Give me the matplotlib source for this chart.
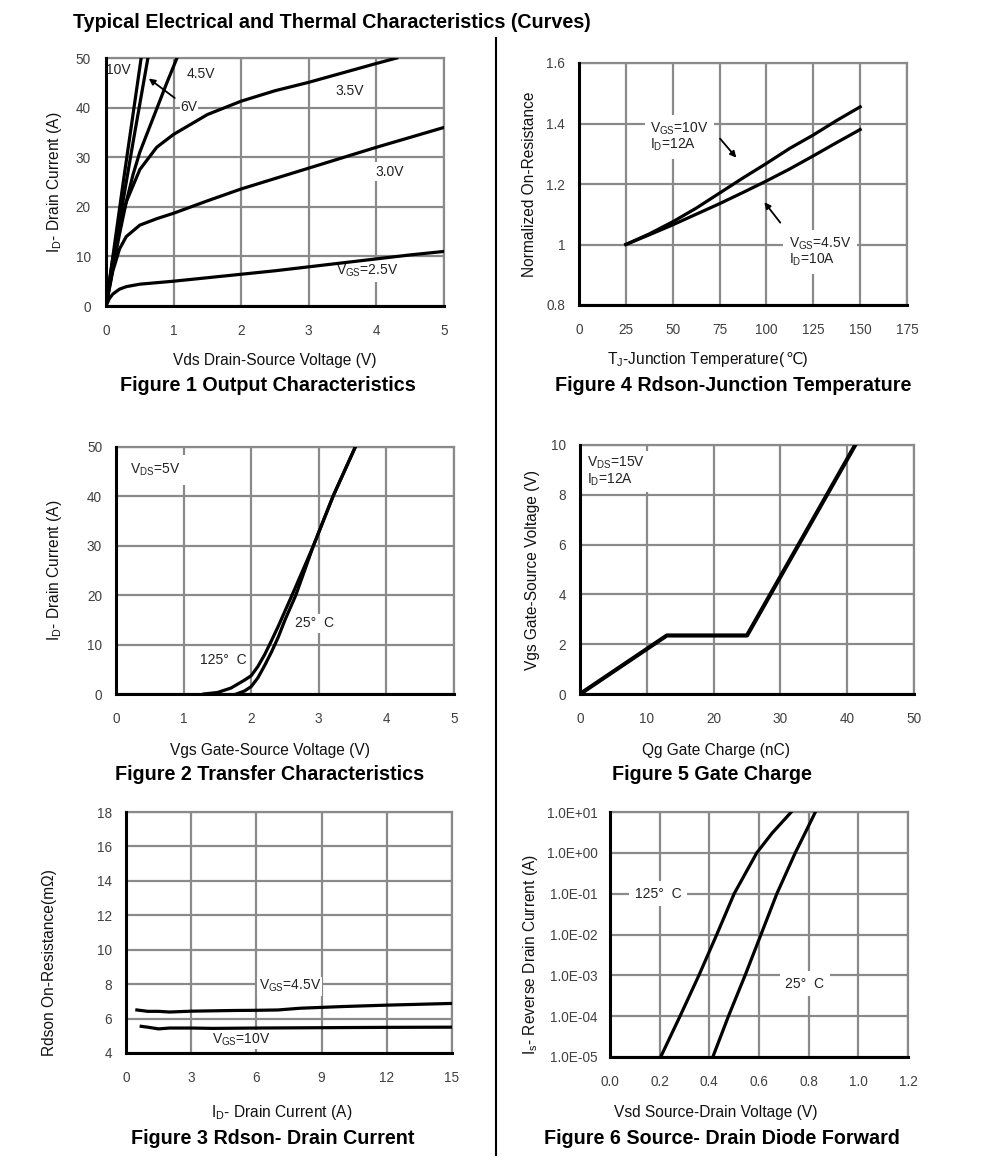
import matplotlib
matplotlib.use("Agg")
import matplotlib.pyplot as plt
from matplotlib.ticker import FuncFormatter, NullLocator

plt.rcParams['font.family'] = ['Liberation Sans', 'DejaVu Sans', 'Noto Sans CJK SC']
plt.rcParams['mathtext.fontset'] = 'custom'
plt.rcParams['mathtext.rm'] = 'Liberation Sans'

W, H = 991, 1164

# Figure 1 - output characteristics (Vds, Id) per Vgs
vds_10v = [0, 0.25, 0.52]
id_10v = [0, 24.5, 50]
vds_6v = [0, 0.2, 0.4, 0.62]
id_6v = [0, 17, 33, 50]
vds_45v = [0, 0.1, 0.2, 0.3, 0.4, 0.5, 0.6, 0.7, 0.8, 0.9, 1.05]
id_45v = [0, 7.5, 14.5, 21, 26.5, 31, 34.5, 38, 41.5, 45, 50]
vds_35v = [0, 0.05, 0.1, 0.2, 0.3, 0.5, 0.75, 1, 1.5, 2, 2.5, 3, 3.5, 4, 4.3]
id_35v = [0, 5, 9.5, 16, 21, 27.5, 32, 34.6, 38.6, 41.3, 43.4, 45.1, 47, 48.9, 50]
vds_30v = [0, 0.05, 0.1, 0.2, 0.3, 0.5, 0.75, 1, 1.5, 2, 2.5, 3, 3.5, 4, 4.5, 5]
id_30v = [0, 3.5, 7, 11.5, 14, 16.3, 17.6, 18.7, 21.2, 23.6, 25.7, 27.8, 29.9, 32, 34, 36]
vds_25v = [0, 0.05, 0.1, 0.2, 0.3, 0.5, 1, 1.5, 2, 2.5, 3, 3.5, 4, 4.5, 5]
id_25v = [0, 1.5, 2.4, 3.4, 3.9, 4.4, 5.0, 5.7, 6.4, 7.1, 7.9, 8.7, 9.5, 10.3, 11.0]

# Figure 4 - normalized Rdson vs junction temperature
tj = [25, 37.5, 50, 62.5, 75, 87.5, 100, 112.5, 125, 137.5, 150]
rn_10v = [1.0, 1.035, 1.075, 1.12, 1.17, 1.22, 1.268, 1.318, 1.362, 1.41, 1.455]
rn_45v = [1.0, 1.032, 1.065, 1.10, 1.135, 1.172, 1.21, 1.25, 1.293, 1.337, 1.38]

# Figure 2 - transfer characteristics
vgs_25c = [1.78, 1.9, 2.0, 2.1, 2.2, 2.3, 2.4, 2.5, 2.66, 2.92, 3.21, 3.54]
id_25c = [0, 0.6, 1.5, 3.3, 5.8, 8.5, 11.5, 15, 20, 30, 40, 50]
vgs_125c = [1.3, 1.5, 1.7, 1.8, 1.9, 2.0, 2.1, 2.2, 2.3, 2.4, 2.5, 2.62, 2.92, 3.21, 3.54]
id_125c = [0, 0.3, 1.2, 2.0, 2.8, 3.7, 5.6, 8.0, 10.8, 13.7, 16.8, 20.5, 30, 40, 50]

# Figure 5 - gate charge
qg = [0, 13, 25, 41.2]
vgs_qg = [0, 2.35, 2.35, 10]

# Figure 3 - Rdson vs drain current
id_r45 = [0.5, 1, 1.5, 2, 3, 4, 5, 6, 7, 8, 9, 10, 12, 15]
rds_45v = [6.5, 6.42, 6.42, 6.38, 6.43, 6.45, 6.47, 6.48, 6.5, 6.6, 6.65, 6.7, 6.78, 6.88]
id_r10 = [0.7, 1, 1.5, 2, 3, 4, 6, 9, 12, 15]
rds_10v = [5.55, 5.5, 5.4, 5.45, 5.45, 5.43, 5.45, 5.47, 5.49, 5.5]

# Figure 6 - body diode forward
is_a = [1e-5, 1e-4, 1e-3, 1e-2, 1e-1, 1, 3, 10]
vsd_125c = [0.204, 0.282, 0.358, 0.43, 0.5, 0.591, 0.652, 0.73]
vsd_25c = [0.414, 0.477, 0.544, 0.608, 0.672, 0.746, 0.785, 0.827]

fig = plt.figure(figsize=(W / 100, H / 100), dpi=100)

GRID = '#8a8a8a'
TICK = '#404040'
LW = 2.3


def px_axes(l, t, r, b):
    return fig.add_axes([l / W, 1 - b / H, (r - l) / W, (b - t) / H])


def style(ax, xpad=13, ypad=10):
    ax.grid(True, color=GRID, lw=1.6)
    ax.set_axisbelow(True)
    for s in ['left', 'bottom']:
        ax.spines[s].set_linewidth(2.2)
        ax.spines[s].set_color('black')
        ax.spines[s].set_zorder(5)
    for s in ['top', 'right']:
        ax.spines[s].set_linewidth(1.6)
        ax.spines[s].set_color(GRID)
    ax.tick_params(length=0, labelsize=9.8, labelcolor=TICK)
    ax.tick_params(axis='x', pad=xpad)
    ax.tick_params(axis='y', pad=ypad)


def ftxt(x, y, s, **kw):
    return fig.text(x / W, 1 - y / H, s, **kw)


def lab(ax, x, y, s, **kw):
    ax.text(x, y, s, fontsize=10, color='#222222', zorder=2.5,
            bbox=dict(facecolor='white', edgecolor='none', pad=kw.pop('pad', 2)), **kw)


cap = dict(fontsize=14.2, fontweight='bold', ha='center', va='center')
axl = dict(fontsize=11.2, ha='center', va='center', color='#111111')

ftxt(73, 22, 'Typical Electrical and Thermal Characteristics (Curves)',
     fontsize=14.2, fontweight='bold', ha='left', va='center')
fig.add_artist(plt.Line2D([496 / W, 496 / W], [1 - 38 / H, 1 - 1155 / H], color='black', lw=1.5))

# ---- Figure 1
ax1 = px_axes(106, 58, 444, 306)
style(ax1, ypad=11)
for x, y in [(vds_10v, id_10v), (vds_6v, id_6v), (vds_45v, id_45v),
             (vds_35v, id_35v), (vds_30v, id_30v), (vds_25v, id_25v)]:
    ax1.plot(x, y, color='black', lw=LW, zorder=3)
ax1.set_xlim(0, 5)
ax1.set_ylim(0, 50)
ax1.set_xticks(range(0, 6))
ax1.set_yticks(range(0, 51, 10))
lab(ax1, 0.0, 47.6, '10V', va='center', pad=0.5)
lab(ax1, 1.2, 46.8, '4.5V', va='center', pad=0.5)
lab(ax1, 1.1, 40.2, '6V', va='center', pad=0.5)
ax1.annotate('', xy=(0.6, 46.2), xytext=(1.05, 41.6),
             arrowprops=dict(arrowstyle='-|>', color='black', lw=1.3, mutation_scale=9))
lab(ax1, 3.4, 43.3, '3.5V', va='center', pad=0.5)
lab(ax1, 3.98, 27.1, '3.0V', va='center')
lab(ax1, 3.4, 7.0, r'V$_{\mathrm{GS}}$=2.5V', va='center')
ftxt(55, 182, r'I$_{\mathrm{D}}$- Drain Current (A)', rotation=90, **axl)
ftxt(275, 360, 'Vds Drain-Source Voltage (V)', **axl)
ftxt(268, 386, 'Figure 1 Output Characteristics', **cap)

# ---- Figure 4
ax4 = px_axes(579, 63, 907, 305)
style(ax4, ypad=10)
ax4.plot(tj, rn_10v, color='black', lw=LW, zorder=3)
ax4.plot(tj, rn_45v, color='black', lw=LW, zorder=3)
ax4.set_xlim(0, 175)
ax4.set_ylim(0.8, 1.6)
ax4.set_xticks(range(0, 176, 25))
ax4.set_yticks([0.8, 1.0, 1.2, 1.4, 1.6])
ax4.yaxis.set_major_formatter(FuncFormatter(lambda v, p: f'{v:g}'))
lab(ax4, 38, 1.41, 'V$_{\\mathrm{GS}}$=10V\nI$_{\\mathrm{D}}$=12A', va='top', pad=4, linespacing=1.0)
ax4.annotate('', xy=(84.9, 1.28), xytext=(74.3, 1.357),
             arrowprops=dict(arrowstyle='-|>', color='black', lw=1.3, mutation_scale=9))
lab(ax4, 112, 1.03, 'V$_{\\mathrm{GS}}$=4.5V\nI$_{\\mathrm{D}}$=10A', va='top', pad=4, linespacing=1.0)
ax4.annotate('', xy=(98, 1.147), xytext=(108.3, 1.065),
             arrowprops=dict(arrowstyle='-|>', color='black', lw=1.3, mutation_scale=9))
ftxt(530, 184, 'Normalized On-Resistance', rotation=90, **axl)
# x label in two parts so the ℃ sign can come from a font that has it
tj_lab = ftxt(607, 364, 'T$_{\\mathrm{J}}$-Junction Temperature(', fontsize=11.2,
              ha='left', va='baseline', color='#111111')
fig.canvas.draw()
x_end = tj_lab.get_window_extent().x1
fig.text(x_end / W, 1 - 364 / H, '℃)', fontsize=11.2, ha='left', va='baseline', color='#111111')
ftxt(733, 386, 'Figure 4 Rdson-Junction Temperature', **cap)

# ---- Figure 2
ax2 = px_axes(116, 447, 454, 694)
style(ax2)
ax2.plot(vgs_125c, id_125c, color='black', lw=LW, zorder=3)
ax2.plot(vgs_25c, id_25c, color='black', lw=LW, zorder=3)
ax2.set_xlim(0, 5)
ax2.set_ylim(0, 50)
ax2.set_xticks(range(0, 6))
ax2.set_yticks(range(0, 51, 10))
lab(ax2, 0.2, 45.4, r'V$_{\mathrm{DS}}$=5V', va='center', pad=5)
lab(ax2, 2.65, 14.3, '25°  C', va='center')
lab(ax2, 1.24, 6.9, '125°  C', va='center')
ftxt(55, 570, r'I$_{\mathrm{D}}$- Drain Current (A)', rotation=90, **axl)
ftxt(270, 750, 'Vgs Gate-Source Voltage (V)', **axl)
ftxt(270, 775, 'Figure 2 Transfer Characteristics', **cap)

# ---- Figure 5
ax5 = px_axes(580, 445, 914, 694)
style(ax5)
ax5.plot(qg, vgs_qg, color='black', lw=3, zorder=3)
ax5.set_xlim(0, 50)
ax5.set_ylim(0, 10)
ax5.set_xticks(range(0, 51, 10))
ax5.set_yticks(range(0, 11, 2))
lab(ax5, 1.1, 9.6, 'V$_{\\mathrm{DS}}$=15V\nI$_{\\mathrm{D}}$=12A', va='top', pad=3, linespacing=1.0)
ftxt(533, 570, 'Vgs Gate-Source Voltage (V)', rotation=90, **axl)
ftxt(716, 750, 'Qg Gate Charge (nC)', **axl)
ftxt(712, 775, 'Figure 5 Gate Charge', **cap)

# ---- Figure 3
ax3 = px_axes(126, 812, 452, 1053)
style(ax3, ypad=10)
ax3.plot(id_r45, rds_45v, color='black', lw=LW, zorder=3)
ax3.plot(id_r10, rds_10v, color='black', lw=LW, zorder=3)
ax3.set_xlim(0, 15)
ax3.set_ylim(4, 18)
ax3.set_xticks(range(0, 16, 3))
ax3.set_yticks(range(4, 19, 2))
lab(ax3, 6.1, 7.88, r'V$_{\mathrm{GS}}$=4.5V', va='center', pad=1)
lab(ax3, 3.95, 4.78, r'V$_{\mathrm{GS}}$=10V', va='center', pad=1)
ftxt(50, 963, 'Rdson On-Resistance(mΩ)', rotation=90, **axl)
ftxt(282, 1113, r'I$_{\mathrm{D}}$- Drain Current (A)', **axl)
ftxt(273, 1139, 'Figure 3 Rdson- Drain Current', **cap)

# ---- Figure 6
ax6 = px_axes(610, 812, 908, 1057)
style(ax6, ypad=9)
ax6.set_yscale('log')
ax6.plot(vsd_125c, is_a, color='black', lw=LW, zorder=3)
ax6.plot(vsd_25c, is_a, color='black', lw=LW, zorder=3)
ax6.set_xlim(0, 1.2)
ax6.set_ylim(1e-5, 10)
ax6.set_xticks([0, 0.2, 0.4, 0.6, 0.8, 1.0, 1.2])
ax6.xaxis.set_major_formatter(FuncFormatter(lambda v, p: f'{v:.1f}'))
ax6.set_yticks([1e-5, 1e-4, 1e-3, 1e-2, 1e-1, 1, 10])
ax6.yaxis.set_major_formatter(FuncFormatter(lambda v, p: f'{v:.1E}'))
ax6.yaxis.set_minor_locator(NullLocator())
lab(ax6, 0.1, 1e-1, '125°  C', va='center', pad=4)
lab(ax6, 0.706, 10 ** -3.2, '25°  C', va='center', pad=4)
ftxt(530, 955, r'I$_{\mathrm{s}}$- Reverse Drain Current (A)', rotation=90, **axl)
ftxt(716, 1113, 'Vsd Source-Drain Voltage (V)', **axl)
ftxt(722, 1139, 'Figure 6 Source- Drain Diode Forward', **cap)

fig.savefig('out.png', dpi=100)
